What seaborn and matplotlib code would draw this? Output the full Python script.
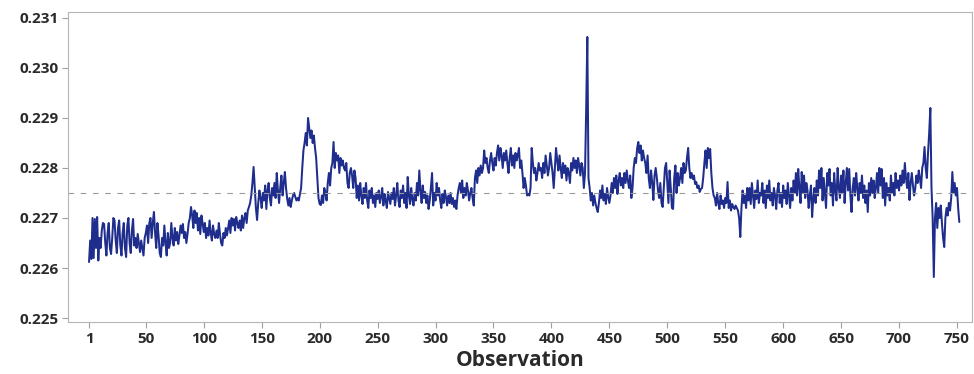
import numpy as np
import pandas as pd
import matplotlib
matplotlib.use("Agg")
import matplotlib.pyplot as plt
import seaborn as sns

# Measured values, in order of observation number
obs_001_050 = [
    0.22612, 0.22655, 0.22618, 0.22700, 0.22620, 0.22698, 0.22640, 0.22702, 0.22615, 0.22660,
    0.22640, 0.22675, 0.22690, 0.22688, 0.22650, 0.22625, 0.22670, 0.22690, 0.22640, 0.22628,
    0.22660, 0.22700, 0.22695, 0.22655, 0.22630, 0.22680, 0.22695, 0.22645, 0.22625, 0.22670,
    0.22690, 0.22640, 0.22622, 0.22685, 0.22700, 0.22650, 0.22630, 0.22675, 0.22698, 0.22645,
    0.22660, 0.22640, 0.22668, 0.22650, 0.22632, 0.22655, 0.22640, 0.22625, 0.22660, 0.22670,
]
obs_051_100 = [
    0.22685, 0.22650, 0.22690, 0.22700, 0.22660, 0.22690, 0.22712, 0.22670, 0.22640, 0.22690,
    0.22665, 0.22630, 0.22622, 0.22660, 0.22645, 0.22685, 0.22650, 0.22625, 0.22670, 0.22640,
    0.22650, 0.22690, 0.22660, 0.22645, 0.22680, 0.22655, 0.22672, 0.22648, 0.22665, 0.22685,
    0.22670, 0.22688, 0.22660, 0.22672, 0.22650, 0.22668, 0.22690, 0.22700, 0.22722, 0.22705,
    0.22680, 0.22715, 0.22690, 0.22710, 0.22675, 0.22700, 0.22668, 0.22705, 0.22690, 0.22672,
]
obs_101_150 = [
    0.22690, 0.22660, 0.22680, 0.22665, 0.22695, 0.22670, 0.22655, 0.22685, 0.22668, 0.22660,
    0.22675, 0.22660, 0.22690, 0.22668, 0.22650, 0.22645, 0.22670, 0.22660, 0.22680, 0.22665,
    0.22680, 0.22695, 0.22670, 0.22700, 0.22685, 0.22698, 0.22675, 0.22702, 0.22690, 0.22680,
    0.22695, 0.22675, 0.22705, 0.22680, 0.22700, 0.22710, 0.22690, 0.22715, 0.22722, 0.22730,
    0.22745, 0.22770, 0.22802, 0.22760, 0.22720, 0.22696, 0.22730, 0.22755, 0.22740, 0.22720,
]
obs_151_200 = [
    0.22750, 0.22735, 0.22765, 0.22718, 0.22755, 0.22770, 0.22740, 0.22725, 0.22760, 0.22745,
    0.22770, 0.22740, 0.22790, 0.22755, 0.22730, 0.22760, 0.22785, 0.22745, 0.22770, 0.22792,
    0.22760, 0.22738, 0.22725, 0.22740, 0.22722, 0.22735, 0.22745, 0.22750, 0.22742, 0.22735,
    0.22740, 0.22735, 0.22748, 0.22760, 0.22800, 0.22835, 0.22850, 0.22870, 0.22845, 0.22900,
    0.22880, 0.22860, 0.22875, 0.22850, 0.22865, 0.22840, 0.22820, 0.22780, 0.22740, 0.22728,
]
obs_201_250 = [
    0.22726, 0.22745, 0.22730, 0.22760, 0.22750, 0.22735, 0.22770, 0.22790, 0.22765, 0.22800,
    0.22810, 0.22852, 0.22800, 0.22830, 0.22815, 0.22825, 0.22790, 0.22820, 0.22805, 0.22815,
    0.22800, 0.22795, 0.22810, 0.22770, 0.22760, 0.22790, 0.22800, 0.22785, 0.22760, 0.22795,
    0.22780, 0.22740, 0.22765, 0.22735, 0.22770, 0.22745, 0.22728, 0.22760, 0.22740, 0.22770,
    0.22735, 0.22720, 0.22755, 0.22740, 0.22760, 0.22730, 0.22745, 0.22722, 0.22750, 0.22738,
]
obs_251_300 = [
    0.22755, 0.22730, 0.22742, 0.22760, 0.22725, 0.22748, 0.22735, 0.22720, 0.22752, 0.22740,
    0.22728, 0.22750, 0.22738, 0.22760, 0.22725, 0.22745, 0.22770, 0.22735, 0.22722, 0.22755,
    0.22740, 0.22765, 0.22730, 0.22750, 0.22720, 0.22782, 0.22745, 0.22728, 0.22760, 0.22738,
    0.22725, 0.22750, 0.22735, 0.22770, 0.22745, 0.22795, 0.22755, 0.22730, 0.22765, 0.22740,
    0.22752, 0.22730, 0.22745, 0.22718, 0.22735, 0.22760, 0.22790, 0.22725, 0.22750, 0.22735,
]
obs_301_350 = [
    0.22770, 0.22745, 0.22760, 0.22735, 0.22720, 0.22748, 0.22730, 0.22755, 0.22742, 0.22725,
    0.22745, 0.22730, 0.22750, 0.22728, 0.22740, 0.22722, 0.22735, 0.22718, 0.22745, 0.22760,
    0.22770, 0.22750, 0.22775, 0.22740, 0.22760, 0.22745, 0.22770, 0.22755, 0.22735, 0.22750,
    0.22760, 0.22740, 0.22725, 0.22780, 0.22795, 0.22770, 0.22800, 0.22785, 0.22805, 0.22790,
    0.22800, 0.22835, 0.22810, 0.22820, 0.22800, 0.22790, 0.22815, 0.22830, 0.22810, 0.22795,
]
obs_351_400 = [
    0.22820, 0.22805, 0.22830, 0.22845, 0.22815, 0.22840, 0.22825, 0.22800, 0.22830, 0.22815,
    0.22835, 0.22810, 0.22790, 0.22820, 0.22840, 0.22805, 0.22825, 0.22800, 0.22830, 0.22815,
    0.22825, 0.22840, 0.22800, 0.22815, 0.22790, 0.22760, 0.22780, 0.22765, 0.22745, 0.22748,
    0.22745, 0.22760, 0.22840, 0.22810, 0.22790, 0.22800, 0.22775, 0.22790, 0.22810, 0.22795,
    0.22800, 0.22780, 0.22810, 0.22790, 0.22825, 0.22805, 0.22785, 0.22800, 0.22830, 0.22810,
]
obs_401_450 = [
    0.22790, 0.22760, 0.22800, 0.22840, 0.22815, 0.22795, 0.22825, 0.22800, 0.22780, 0.22810,
    0.22790, 0.22805, 0.22775, 0.22800, 0.22790, 0.22770, 0.22810, 0.22795, 0.22820, 0.22800,
    0.22815, 0.22790, 0.22820, 0.22805, 0.22785, 0.22810, 0.22800, 0.22760, 0.22790, 0.22916,
    0.23062, 0.22780, 0.22760, 0.22735, 0.22750, 0.22725, 0.22745, 0.22730, 0.22720, 0.22712,
    0.22730, 0.22755, 0.22740, 0.22765, 0.22735, 0.22748, 0.22728, 0.22760, 0.22742, 0.22730,
]
obs_451_500 = [
    0.22745, 0.22770, 0.22750, 0.22780, 0.22760, 0.22785, 0.22748, 0.22775, 0.22790, 0.22765,
    0.22780, 0.22760, 0.22790, 0.22770, 0.22795, 0.22775, 0.22760, 0.22785, 0.22740, 0.22760,
    0.22800, 0.22820, 0.22810, 0.22840, 0.22852, 0.22830, 0.22845, 0.22815, 0.22835, 0.22820,
    0.22810, 0.22790, 0.22825, 0.22780, 0.22760, 0.22795, 0.22770, 0.22736, 0.22785, 0.22800,
    0.22780, 0.22755, 0.22740, 0.22770, 0.22730, 0.22722, 0.22760, 0.22800, 0.22810, 0.22770,
]
obs_501_550 = [
    0.22730, 0.22795, 0.22760, 0.22720, 0.22718, 0.22780, 0.22805, 0.22750, 0.22790, 0.22765,
    0.22780, 0.22800, 0.22770, 0.22810, 0.22790, 0.22795, 0.22820, 0.22840, 0.22800, 0.22780,
    0.22790, 0.22778, 0.22785, 0.22768, 0.22772, 0.22760, 0.22765, 0.22752, 0.22758, 0.22760,
    0.22780, 0.22810, 0.22835, 0.22800, 0.22840, 0.22820, 0.22838, 0.22790, 0.22760, 0.22745,
    0.22740, 0.22725, 0.22750, 0.22730, 0.22718, 0.22745, 0.22728, 0.22735, 0.22720, 0.22740,
]
obs_551_600 = [
    0.22730, 0.22772, 0.22720, 0.22735, 0.22715, 0.22728, 0.22722, 0.22718, 0.22725, 0.22720,
    0.22715, 0.22700, 0.22662, 0.22720, 0.22755, 0.22730, 0.22745, 0.22720, 0.22760, 0.22735,
    0.22760, 0.22728, 0.22770, 0.22745, 0.22720, 0.22755, 0.22738, 0.22775, 0.22730, 0.22750,
    0.22745, 0.22770, 0.22730, 0.22755, 0.22720, 0.22765, 0.22740, 0.22775, 0.22735, 0.22750,
    0.22725, 0.22760, 0.22745, 0.22718, 0.22755, 0.22770, 0.22730, 0.22750, 0.22722, 0.22765,
]
obs_601_650 = [
    0.22740, 0.22755, 0.22728, 0.22770, 0.22745, 0.22720, 0.22760, 0.22735, 0.22775, 0.22750,
    0.22790, 0.22745, 0.22798, 0.22760, 0.22730, 0.22792, 0.22750, 0.22785, 0.22740, 0.22770,
    0.22755, 0.22720, 0.22745, 0.22765, 0.22702, 0.22740, 0.22760, 0.22730, 0.22775, 0.22745,
    0.22795, 0.22760, 0.22800, 0.22735, 0.22780, 0.22750, 0.22720, 0.22790, 0.22765, 0.22798,
    0.22745, 0.22770, 0.22725, 0.22790, 0.22755, 0.22735, 0.22800, 0.22760, 0.22740, 0.22785,
]
obs_651_700 = [
    0.22750, 0.22795, 0.22730, 0.22770, 0.22800, 0.22755, 0.22798, 0.22745, 0.22712, 0.22760,
    0.22780, 0.22745, 0.22790, 0.22760, 0.22735, 0.22770, 0.22750, 0.22785, 0.22740, 0.22765,
    0.22730, 0.22755, 0.22712, 0.22770, 0.22745, 0.22780, 0.22750, 0.22775, 0.22740, 0.22760,
    0.22790, 0.22750, 0.22800, 0.22765, 0.22798, 0.22740, 0.22780, 0.22725, 0.22770, 0.22745,
    0.22760, 0.22735, 0.22785, 0.22750, 0.22770, 0.22745, 0.22790, 0.22760, 0.22775, 0.22755,
]
obs_701_752 = [
    0.22785, 0.22765, 0.22795, 0.22770, 0.22810, 0.22780, 0.22760, 0.22790, 0.22736, 0.22770,
    0.22790, 0.22765, 0.22745, 0.22760, 0.22785, 0.22770, 0.22795, 0.22780, 0.22760, 0.22800,
    0.22810, 0.22842, 0.22800, 0.22780, 0.22830, 0.22870, 0.22920, 0.22760, 0.22700, 0.22582,
    0.22700, 0.22730, 0.22680, 0.22720, 0.22700, 0.22725, 0.22690, 0.22660, 0.22642, 0.22700,
    0.22720, 0.22705, 0.22730, 0.22715, 0.22740, 0.22792, 0.22750, 0.22770, 0.22745, 0.22760,
    0.22720, 0.22692,
]

x_ticks = [1, 50, 100, 150, 200, 250, 300, 350, 400, 450, 500, 550, 600, 650, 700, 750]
y_ticks = [0.225, 0.226, 0.227, 0.228, 0.229, 0.230, 0.231]
x_label = "Observation"

values = np.concatenate([
    obs_001_050, obs_051_100, obs_101_150, obs_151_200, obs_201_250,
    obs_251_300, obs_301_350, obs_351_400, obs_401_450, obs_451_500,
    obs_501_550, obs_551_600, obs_601_650, obs_651_700, obs_701_752,
])
df = pd.DataFrame({"Observation": np.arange(1, len(values) + 1), "Value": values})
mean_value = df["Value"].mean()

sns.set_theme(style="white")
plt.rcParams["font.family"] = ["Open Sans", "DejaVu Sans"]

fig = plt.figure(figsize=(9.74, 3.74), dpi=100)
ax = fig.add_axes([0.070, 0.139, 0.928, 0.829])

sns.lineplot(data=df, x="Observation", y="Value", ax=ax,
             color="#1f2e8c", linewidth=1.45)
ax.axhline(mean_value, color="#9a9a9a", linewidth=0.8, linestyle=(0, (5, 6)))

ax.set_xlim(-17, 763)
ax.set_ylim(0.22492, 0.23112)
ax.set_xticks(x_ticks)
ax.set_yticks(y_ticks)
ax.set_yticklabels([f"{v:.3f}" for v in y_ticks])

for side in ["left", "bottom", "top", "right"]:
    ax.spines[side].set_color("#b5b5b5")
    ax.spines[side].set_linewidth(0.8)

ax.tick_params(axis="both", direction="out", length=4, width=0.8,
               color="#a0a0a0", labelsize=11, labelcolor="#2a2a2a", pad=3,
               left=True, bottom=True)
for lbl in ax.get_xticklabels() + ax.get_yticklabels():
    lbl.set_fontweight("bold")

ax.set_xlabel(x_label, fontsize=15, fontweight="bold", color="#2a2a2a", labelpad=3)
ax.set_ylabel("")

fig.savefig("out.png", dpi=100)
